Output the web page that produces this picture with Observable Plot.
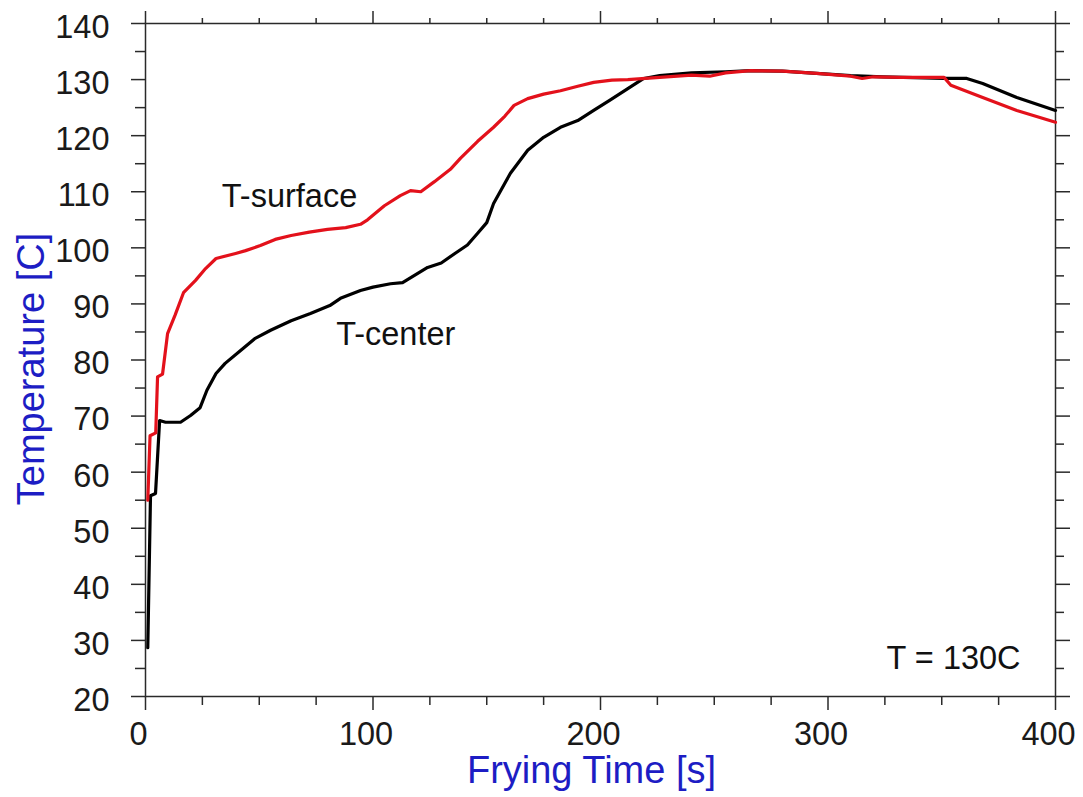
<!DOCTYPE html>
<html>
<head>
<meta charset="utf-8">
<script src="https://cdn.jsdelivr.net/npm/d3@7"></script>
<script src="https://cdn.jsdelivr.net/npm/@observablehq/plot@0.6"></script>
<style>
  html, body { margin: 0; padding: 0; background: #fff; }
  #chart { width: 1083px; height: 797px; }
</style>
</head>
<body>
<div id="chart"></div>
<script>
// ---- data ----
const surfaceTime = [1, 2, 4.5, 5.3, 7.5, 9.7, 13, 16.7, 22, 26.4, 31, 39.6, 44, 50.5, 57, 64, 72, 80, 88, 94.5, 97.6, 105, 112, 116.5, 121, 127, 134, 138.5, 146, 153, 158, 162, 168, 175, 182.4, 190, 197, 205, 212, 226, 240, 248, 255, 266, 280, 295, 310, 315, 320, 332, 351, 354, 368, 383, 400];
const surfaceTemp = [55, 66.5, 67, 77, 77.5, 84.7, 88, 92, 94.2, 96.3, 98.1, 99, 99.5, 100.4, 101.5, 102.2, 102.8, 103.3, 103.6, 104.2, 105, 107.5, 109.3, 110.2, 110, 111.8, 114, 116, 119, 121.5, 123.5, 125.4, 126.6, 127.4, 128, 128.8, 129.5, 129.9, 130, 130.4, 130.8, 130.6, 131.2, 131.6, 131.5, 131.1, 130.6, 130.2, 130.5, 130.4, 130.4, 129, 126.8, 124.5, 122.4];

const centerTime = [1, 2.2, 4.4, 6.2, 8.8, 15.4, 19.8, 24, 27, 31, 35, 41.8, 48, 55, 64, 72.5, 81, 85.7, 94.5, 100, 107.7, 113, 124, 130, 136, 141.5, 146, 150, 153, 160.4, 168, 175, 182.4, 190, 197, 204, 212, 219, 226, 240, 255, 266, 280, 295, 310, 324, 351, 361, 368, 383, 400];
const centerTemp = [28.7, 55.8, 56.2, 69.2, 68.9, 68.9, 70.1, 71.5, 74.6, 77.6, 79.4, 81.7, 83.8, 85.3, 87, 88.3, 89.7, 91, 92.4, 93, 93.6, 93.8, 96.5, 97.3, 99, 100.5, 102.6, 104.5, 107.9, 113.3, 117.4, 119.7, 121.5, 122.7, 124.5, 126.3, 128.4, 130.2, 130.7, 131.2, 131.4, 131.6, 131.5, 131.1, 130.7, 130.5, 130.2, 130.2, 129.3, 126.8, 124.5];

const xMajorTicks = [0, 100, 200, 300, 400];
const xMinorTicks = [25, 50, 75, 125, 150, 175, 225, 250, 275, 325, 350, 375];
const yMajorTicks = [20, 30, 40, 50, 60, 70, 80, 90, 100, 110, 120, 130, 140];
const yMinorTicks = [25, 35, 45, 55, 65, 75, 85, 95, 105, 115, 125, 135];

const labelText = ["T-surface", "T-center", "T = 130C"];
const labelTime = [63.3, 110, 355.2];
const labelTemp = [109.1, 84.6, 26.8];

const xTitle = "Frying Time [s]";
const yTitle = "Temperature [C]";

// ---- build tables ----
const surface = surfaceTime.map((t, i) => ({t, T: surfaceTemp[i]}));
const center = centerTime.map((t, i) => ({t, T: centerTemp[i]}));
const labels = labelText.map((s, i) => ({s, t: labelTime[i], T: labelTemp[i]}));

const BLUE = "#1d1dc4";
const AX = "#2a2a2a";

const chart = Plot.plot({
  width: 1083,
  height: 797,
  marginLeft: 145,
  marginRight: 28,
  marginTop: 23,
  marginBottom: 101,
  style: {fontFamily: "'Liberation Sans', Arial, sans-serif", background: "#fff", color: "#1a1a1a"},
  x: {domain: [0, 400]},
  y: {domain: [20, 140]},
  marks: [
    // bottom axis
    Plot.axisX({ticks: xMajorTicks, tickSize: 14, text: null, label: null, stroke: AX, strokeWidth: 1.5}),
    Plot.axisX({ticks: xMinorTicks, tickSize: 9, text: null, label: null, stroke: AX, strokeWidth: 1.5}),
    Plot.axisX({ticks: xMajorTicks, tickSize: 0, tickPadding: 25, fontSize: 32.5, dx: -7, label: null, tickFormat: d => String(d)}),
    // top axis
    Plot.axisX({anchor: "top", ticks: xMajorTicks, tickSize: 13, text: null, label: null, stroke: AX, strokeWidth: 1.5}),
    Plot.axisX({anchor: "top", ticks: xMinorTicks, tickSize: 6, text: null, label: null, stroke: AX, strokeWidth: 1.5}),
    // left axis
    Plot.axisY({ticks: yMajorTicks, tickSize: 14, text: null, label: null, stroke: AX, strokeWidth: 1.5}),
    Plot.axisY({ticks: yMinorTicks, tickSize: 10, text: null, label: null, stroke: AX, strokeWidth: 1.5}),
    Plot.axisY({ticks: yMajorTicks, tickSize: 0, tickPadding: 36, fontSize: 32.5, dy: 4, label: null, tickFormat: d => String(d)}),
    // right axis
    Plot.axisY({anchor: "right", ticks: yMajorTicks, tickSize: 14, text: null, label: null, stroke: AX, strokeWidth: 1.5}),
    Plot.axisY({anchor: "right", ticks: yMinorTicks, tickSize: 8, text: null, label: null, stroke: AX, strokeWidth: 1.5}),
    Plot.frame({stroke: AX, strokeWidth: 1.5}),
    // series
    Plot.line(center, {x: "t", y: "T", stroke: "#000", strokeWidth: 3.2, curve: "linear"}),
    Plot.line(surface, {x: "t", y: "T", stroke: "#e3111b", strokeWidth: 3.2, curve: "linear"}),
    // annotations
    Plot.text(labels, {x: "t", y: "T", text: "s", fontSize: 32.5, fill: "#111", lineAnchor: "middle"}),
    // axis titles
    Plot.text([xTitle], {frameAnchor: "bottom", text: d => d, dx: -9, dy: 74, fontSize: 38, fill: BLUE, lineAnchor: "middle", textAnchor: "middle"}),
    Plot.text([yTitle], {frameAnchor: "left", text: d => d, rotate: -90, dx: -114, dy: 9, fontSize: 38, fill: BLUE, lineAnchor: "middle", textAnchor: "middle"})
  ]
});
document.getElementById("chart").appendChild(chart);
</script>
</body>
</html>
